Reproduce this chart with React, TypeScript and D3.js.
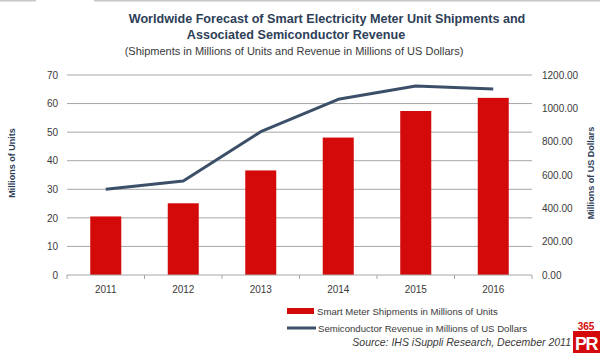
import React, { useEffect, useRef } from "react";
import { select, scaleLinear, scaleBand, line, axisLeft, axisRight, format } from "d3";

const years = ["2011", "2012", "2013", "2014", "2015", "2016"];
const shipments = [20.5, 25.1, 36.6, 48.1, 57.4, 62.0];
const revenue = [514, 564, 860, 1054, 1134, 1116];
const unitTicks = [0, 10, 20, 30, 40, 50, 60, 70];
const dollarTicks = [0, 200, 400, 600, 800, 1000, 1200];

const W = 600;
const H = 353;
const FONT = "'Liberation Sans', Arial, sans-serif";
const RED = "#d40a0a";
const NAVY = "#3b5068";
const TEXT = "#3a3a3a";

const App = () => {
  const svgRef = useRef<SVGSVGElement>(null);

  useEffect(() => {
    const svg = select(svgRef.current);
    svg.selectAll("*").remove();

    const left = 67;
    const right = 532;
    const top = 75;
    const bottom = 275;

    const xAxisScale = scaleBand().domain(years).range([left, right]);
    const xBar = scaleBand()
      .domain(years)
      .range([left, right])
      .paddingInner(0.6)
      .paddingOuter(0.3);
    const yLeft = scaleLinear().domain([0, 70]).range([bottom, top]);
    const yRight = scaleLinear().domain([0, 1200]).range([bottom, top]);
    const mid = (yr: string) => (xAxisScale(yr) as number) + xAxisScale.bandwidth() / 2;

    // top border
    svg.append("line")
      .attr("x1", 0).attr("x2", 36).attr("y1", 0.5).attr("y2", 0.5)
      .attr("stroke", "#c8c8c8").attr("stroke-width", 2);
    svg.append("line")
      .attr("x1", 94).attr("x2", W).attr("y1", 0.5).attr("y2", 0.5)
      .attr("stroke", "#c8c8c8").attr("stroke-width", 2);

    // titles
    const titles = svg.append("g").attr("font-family", FONT).attr("text-anchor", "middle");
    titles.append("text")
      .attr("x", 327).attr("y", 23)
      .attr("font-size", 12.6).attr("font-weight", "bold").attr("fill", "#2e4058")
      .text("Worldwide Forecast of Smart Electricity Meter Unit Shipments and");
    titles.append("text")
      .attr("x", 296).attr("y", 39)
      .attr("font-size", 12.6).attr("font-weight", "bold").attr("fill", "#2e4058")
      .text("Associated Semiconductor Revenue");
    titles.append("text")
      .attr("x", 294).attr("y", 55)
      .attr("font-size", 11).attr("fill", TEXT)
      .text("(Shipments in Millions of Units and Revenue in Millions of US Dollars)");

    // gridlines
    svg.append("g")
      .selectAll("line")
      .data(unitTicks.slice(1))
      .join("line")
      .attr("x1", left).attr("x2", right)
      .attr("y1", (d) => yLeft(d)).attr("y2", (d) => yLeft(d))
      .attr("stroke", "#a6a6a6").attr("stroke-width", 1);

    // left axis labels
    const yAxisL = axisLeft(yLeft).tickValues(unitTicks).tickSize(0).tickPadding(0);
    const gl = svg.append("g").attr("transform", "translate(58,0)").call(yAxisL);
    gl.select(".domain").remove();
    gl.selectAll("text").attr("font-family", FONT).attr("font-size", 10).attr("fill", TEXT);

    // right axis labels
    const yAxisR = axisRight(yRight).tickValues(dollarTicks).tickSize(0).tickPadding(0).tickFormat(format(".2f"));
    const gr = svg.append("g").attr("transform", "translate(542,0)").call(yAxisR);
    gr.select(".domain").remove();
    gr.selectAll("text").attr("font-family", FONT).attr("font-size", 10).attr("fill", TEXT);

    // axis titles
    svg.append("text")
      .attr("transform", "translate(15,163) rotate(-90)")
      .attr("text-anchor", "middle")
      .attr("font-family", FONT).attr("font-size", 9).attr("font-weight", "bold").attr("fill", "#2e4058")
      .text("Millions of Units");
    svg.append("text")
      .attr("transform", "translate(594,173) rotate(-90)")
      .attr("text-anchor", "middle")
      .attr("font-family", FONT).attr("font-size", 9).attr("font-weight", "bold").attr("fill", "#2e4058")
      .text("Millions of US Dollars");

    // bars
    svg.append("g")
      .selectAll("rect")
      .data(shipments)
      .join("rect")
      .attr("x", (d, i) => xBar(years[i]) as number)
      .attr("y", (d) => yLeft(d))
      .attr("width", xBar.bandwidth())
      .attr("height", (d) => bottom - yLeft(d))
      .attr("fill", RED);

    // bottom axis
    svg.append("line")
      .attr("x1", left).attr("x2", right).attr("y1", bottom).attr("y2", bottom)
      .attr("stroke", "#a6a6a6");
    svg.append("g")
      .selectAll("line")
      .data([...years.map((y) => xAxisScale(y) as number), right])
      .join("line")
      .attr("x1", (d) => d).attr("x2", (d) => d)
      .attr("y1", bottom).attr("y2", bottom + 4)
      .attr("stroke", "#a6a6a6");
    svg.append("g")
      .selectAll("text")
      .data(years)
      .join("text")
      .attr("x", (d) => mid(d))
      .attr("y", 293)
      .attr("text-anchor", "middle")
      .attr("font-family", FONT).attr("font-size", 10).attr("fill", TEXT)
      .text((d) => d);

    // revenue line
    const path = line<number>()
      .x((d, i) => mid(years[i]))
      .y((d) => yRight(d));
    svg.append("path")
      .attr("d", path(revenue))
      .attr("fill", "none")
      .attr("stroke", NAVY)
      .attr("stroke-width", 3)
      .attr("stroke-linejoin", "round");

    // legend
    const lg = svg.append("g").attr("font-family", FONT).attr("font-size", 9.6).attr("fill", TEXT);
    lg.append("rect").attr("x", 287).attr("y", 308).attr("width", 27).attr("height", 6).attr("fill", RED);
    lg.append("text").attr("x", 317).attr("y", 314.5).text("Smart Meter Shipments in Millions of Units");
    lg.append("line").attr("x1", 287).attr("x2", 316).attr("y1", 328).attr("y2", 328)
      .attr("stroke", NAVY).attr("stroke-width", 3);
    lg.append("text").attr("x", 318).attr("y", 331.5).text("Semiconductor Revenue in Millions of US Dollars");

    svg.append("text")
      .attr("x", 571).attr("y", 346)
      .attr("text-anchor", "end")
      .attr("font-family", FONT).attr("font-size", 10.5).attr("font-style", "italic").attr("fill", TEXT)
      .text("Source: IHS iSuppli Research, December 2011");

    // logo
    svg.append("text")
      .attr("x", 586).attr("y", 330)
      .attr("text-anchor", "middle")
      .attr("font-family", FONT).attr("font-size", 10).attr("font-weight", "bold").attr("fill", RED)
      .text("365");
    svg.append("rect").attr("x", 573).attr("y", 331).attr("width", 27).attr("height", 22).attr("fill", RED);
    svg.append("text")
      .attr("x", 586).attr("y", 350)
      .attr("text-anchor", "middle")
      .attr("font-family", FONT).attr("font-size", 18).attr("font-weight", "bold").attr("fill", "#fff")
      .attr("letter-spacing", -1.5)
      .text("PR");
  }, []);

  return (
    <svg
      ref={svgRef}
      width={W}
      height={H}
      style={{ position: "absolute", left: 0, top: 0, background: "#fff" }}
    />
  );
};

export default App;
